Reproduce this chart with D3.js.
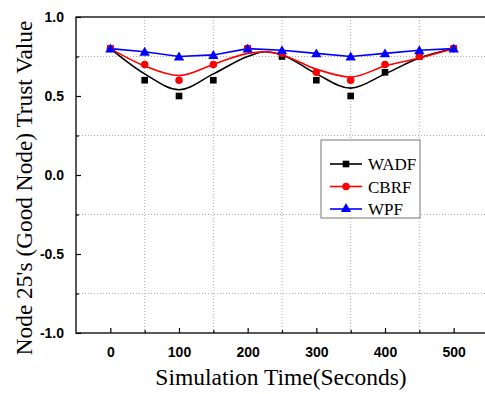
<!DOCTYPE html>
<html>
<head>
<meta charset="utf-8">
<script src="https://cdn.jsdelivr.net/npm/d3@7"></script>
<style>
  body { margin: 0; background: #fff; }
  svg { display: block; }
</style>
</head>
<body>
<svg id="chart" width="485" height="394"></svg>
<script>
// time points (seconds)
const times = [0, 50, 100, 150, 200, 250, 300, 350, 400, 450, 500];
// measured trust values
const wadf = [0.80, 0.60, 0.50, 0.60, 0.80, 0.75, 0.60, 0.50, 0.65, 0.75, 0.80];
const cbrf = [0.80, 0.70, 0.60, 0.70, 0.80, 0.77, 0.65, 0.60, 0.70, 0.75, 0.80];
const wpf  = [0.80, 0.78, 0.75, 0.76, 0.80, 0.79, 0.77, 0.75, 0.77, 0.79, 0.80];
// fitted curves
const fitTimes = [0, 50, 100, 150, 200, 225, 250, 300, 350, 400, 450, 500];
const wadfFit = [0.80, 0.64, 0.54, 0.64, 0.75, 0.78, 0.76, 0.64, 0.55, 0.64, 0.74, 0.80];
const cbrfFit = [0.80, 0.69, 0.63, 0.70, 0.77, 0.78, 0.76, 0.67, 0.62, 0.69, 0.74, 0.80];

const xTicks = [0, 100, 200, 300, 400, 500];
const xMinor = [50, 150, 250, 350, 450];
const yTicks = [-1.0, -0.5, 0.0, 0.5, 1.0];
const yMinor = [-0.75, -0.25, 0.25, 0.75];

const margin = { left: 76, top: 17, right: 488, bottom: 333 };
const svg = d3.select('#chart');

const x = d3.scaleLinear().domain([-50, 550]).range([margin.left, margin.right]);
const y = d3.scaleLinear().domain([-1, 1]).range([margin.bottom, margin.top]);

// dotted grid on minor ticks
const grid = svg.append('g').attr('stroke', '#999').attr('stroke-width', 0.8).attr('stroke-dasharray', '1,2');
grid.selectAll('.vg').data(xMinor).enter().append('line')
  .attr('x1', d => x(d)).attr('x2', d => x(d))
  .attr('y1', margin.top).attr('y2', margin.bottom);
grid.selectAll('.hg').data(yMinor).enter().append('line')
  .attr('x1', margin.left).attr('x2', margin.right)
  .attr('y1', d => y(d)).attr('y2', d => y(d));

// frame
svg.append('rect')
  .attr('x', margin.left).attr('y', margin.top)
  .attr('width', margin.right - margin.left).attr('height', margin.bottom - margin.top)
  .attr('fill', 'none').attr('stroke', '#000').attr('stroke-width', 1.3);

// axes (ticks inward); plain hyphen for negatives like the original
const yFmt = d => d3.format('.1f')(d).replace('\u2212', '-');
svg.append('g').attr('transform', `translate(0,${margin.bottom})`)
  .call(d3.axisBottom(x).tickValues(xTicks).tickSize(-5).tickPadding(14).tickFormat(d3.format('d')));
svg.append('g').attr('transform', `translate(0,${margin.bottom})`)
  .call(d3.axisBottom(x).tickValues(xMinor).tickSize(-3).tickFormat(''));
svg.append('g').attr('transform', `translate(${margin.left},0)`)
  .call(d3.axisLeft(y).tickValues(yTicks).tickSize(-5).tickPadding(12).tickFormat(yFmt));
svg.append('g').attr('transform', `translate(${margin.left},0)`)
  .call(d3.axisLeft(y).tickValues(yMinor).tickSize(-3).tickFormat(''));
svg.selectAll('.domain').remove();
svg.selectAll('.tick line').attr('stroke', '#000').attr('stroke-width', 1.2);
svg.selectAll('.tick text')
  .attr('font-family', '"Liberation Sans", Arial, sans-serif')
  .attr('font-weight', 'bold').attr('font-size', 14).attr('fill', '#000');

// axis titles
svg.append('text').attr('x', 281).attr('y', 385).attr('text-anchor', 'middle')
  .attr('font-family', '"Liberation Serif", "Times New Roman", serif').attr('font-size', 23.5)
  .text('Simulation Time(Seconds)');
svg.append('text').attr('transform', 'translate(32,188) rotate(-90)').attr('text-anchor', 'middle')
  .attr('font-family', '"Liberation Serif", "Times New Roman", serif').attr('font-size', 23.3)
  .text("Node 25's (Good Node) Trust Value");

const plot = svg.append('g');
const smooth = d3.line().x(d => x(d[0])).y(d => y(d[1])).curve(d3.curveMonotoneX);
const straight = d3.line().x(d => x(d[0])).y(d => y(d[1]));

plot.append('path').datum(d3.zip(fitTimes, wadfFit)).attr('d', smooth)
  .attr('fill', 'none').attr('stroke', '#000').attr('stroke-width', 1.6);
plot.append('path').datum(d3.zip(fitTimes, cbrfFit)).attr('d', smooth)
  .attr('fill', 'none').attr('stroke', '#f00').attr('stroke-width', 1.6);
plot.append('path').datum(d3.zip(times, wpf)).attr('d', straight)
  .attr('fill', 'none').attr('stroke', '#00f').attr('stroke-width', 1.6);

const sq = d3.symbol().type(d3.symbolSquare).size(44);
const ci = d3.symbol().type(d3.symbolCircle).size(44);
const tr = d3.symbol().type(d3.symbolTriangle).size(46);

plot.selectAll('.sq').data(d3.zip(times, wadf)).enter().append('path')
  .attr('d', sq).attr('fill', '#000')
  .attr('transform', d => `translate(${x(d[0])},${y(d[1])})`);
plot.selectAll('.ci').data(d3.zip(times, cbrf)).enter().append('path')
  .attr('d', ci).attr('fill', '#f00')
  .attr('transform', d => `translate(${x(d[0])},${y(d[1])})`);
plot.selectAll('.tr').data(d3.zip(times, wpf)).enter().append('path')
  .attr('d', tr).attr('fill', '#00f')
  .attr('transform', d => `translate(${x(d[0])},${y(d[1]) + 1})`);

// legend
const legendItems = [
  { name: 'WADF', color: '#000', sym: sq },
  { name: 'CBRF', color: '#f00', sym: ci },
  { name: 'WPF', color: '#00f', sym: tr }
];
const lg = svg.append('g');
lg.append('rect').attr('x', 321).attr('y', 140).attr('width', 99).attr('height', 78)
  .attr('fill', '#fff').attr('stroke', '#777').attr('stroke-width', 1);
legendItems.forEach((it, i) => {
  const ly = 164 + i * 22.5;
  lg.append('line').attr('x1', 330).attr('x2', 362).attr('y1', ly).attr('y2', ly)
    .attr('stroke', it.color).attr('stroke-width', 1.6);
  lg.append('path').attr('d', it.sym).attr('fill', it.color)
    .attr('transform', `translate(346,${ly})`);
  lg.append('text').attr('x', 368).attr('y', ly + 6)
    .attr('font-family', '"Liberation Serif", "Times New Roman", serif').attr('font-size', 17)
    .text(it.name);
});
</script>
</body>
</html>
